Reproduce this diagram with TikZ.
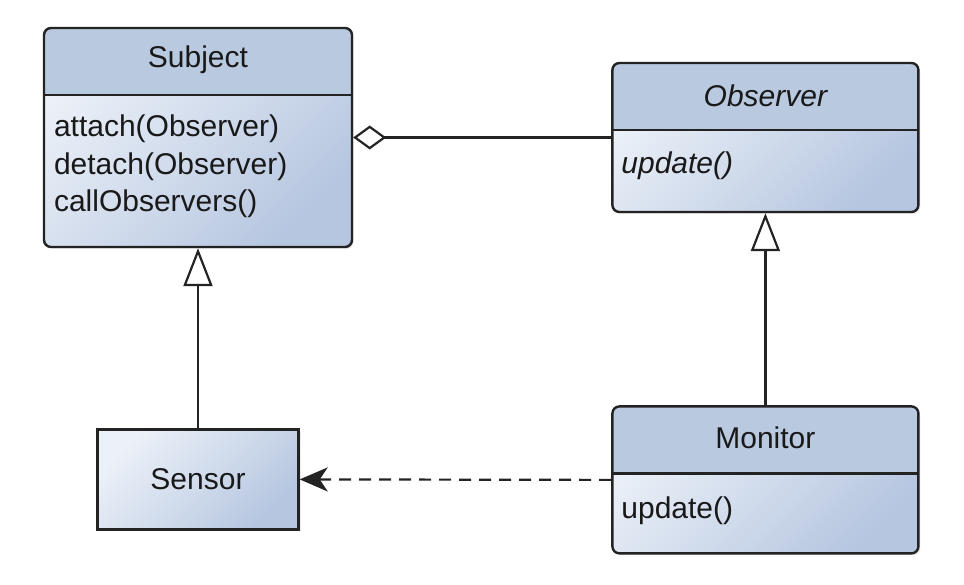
\documentclass[tikz,border=0pt]{standalone}
\usepackage{fontspec}
\setmainfont{Liberation Sans}
\usetikzlibrary{arrows.meta, positioning, shadows}
\definecolor{umlhead}{RGB}{185,201,224}
\definecolor{umllight}{RGB}{236,241,248}
\definecolor{umldark}{RGB}{182,198,224}
\definecolor{umlline}{RGB}{35,35,35}
\definecolor{umltext}{RGB}{25,25,25}

\begin{document}
\begin{tikzpicture}[
  x=1pt, y=1pt,
  font=\fontsize{30}{37.5}\selectfont\color{umltext},
  umlbox/.style={rectangle, draw=umlline, line width=2.4pt, inner sep=0pt,
    top color=umllight, bottom color=umldark, shading angle=45,
    drop shadow={shadow xshift=2pt, shadow yshift=-2pt, opacity=0.15}},
  umlclass/.style={umlbox, rounded corners=7pt,
    path picture={
      \fill[umlhead, sharp corners] (path picture bounding box.north west) rectangle ([yshift=-67pt]path picture bounding box.north east);
      \draw[umlline, line width=2.4pt, sharp corners] ([yshift=-67pt]path picture bounding box.north west) -- ([yshift=-67pt]path picture bounding box.north east);
    }},
  classname/.style={inner sep=0pt},
  members/.style={anchor=base west, align=left, inner sep=0pt},
  inherit/.style={draw=umlline, line width=2.2pt, -{Triangle[open, length=38pt, width=29pt]}},
  aggr/.style={draw=umlline, line width=2.2pt, {Diamond[open, length=33pt, width=24pt]}-},
  depend/.style={draw=umlline, line width=2.2pt, dash pattern=on 12pt off 8pt, -{Stealth[length=28pt, width=24pt, inset=8pt]}},
]
  \useasboundingbox (0,0) rectangle (964,584);

  % Classes
  \node[umlclass, minimum width=308pt, minimum height=219pt] (subject) at (198,446.5) {};
  \node[umlclass, minimum width=306pt, minimum height=149pt, right=258pt of subject] (observer) {};
  \node[umlbox, minimum width=201pt, minimum height=100pt, below=180pt of subject] (sensor) {Sensor};
  \node[umlclass, minimum width=306pt, minimum height=147pt, below=192pt of observer] (monitor) {};

  % Names and operations (base = last line)
  \node[classname] (subjectname) at ([yshift=-33pt]subject.north) {Subject};
  \node[members] (subjectops) at ([xshift=11pt, yshift=-185pt]subject.north west)
    {attach(Observer)\\detach(Observer)\\callObservers()};
  \node[classname] (observername) at ([yshift=-34pt]observer.north) {\itshape Observer};
  \node[members] (observerops) at ([xshift=10pt, yshift=-112pt]observer.north west) {\itshape update()};
  \node[classname] (monitorname) at ([yshift=-33pt]monitor.north) {Monitor};
  \node[members] (monitorops) at ([xshift=10pt, yshift=-113pt]monitor.north west) {update()};

  % Relations
  \draw[aggr] (subject.east) -- (observer.west);
  \draw[inherit] (sensor.north) -- (subject.south);
  \draw[inherit] (monitor.north) -- (observer.south);
  \draw[depend] (monitor.west) -- (sensor.east);
\end{tikzpicture}
\end{document}
